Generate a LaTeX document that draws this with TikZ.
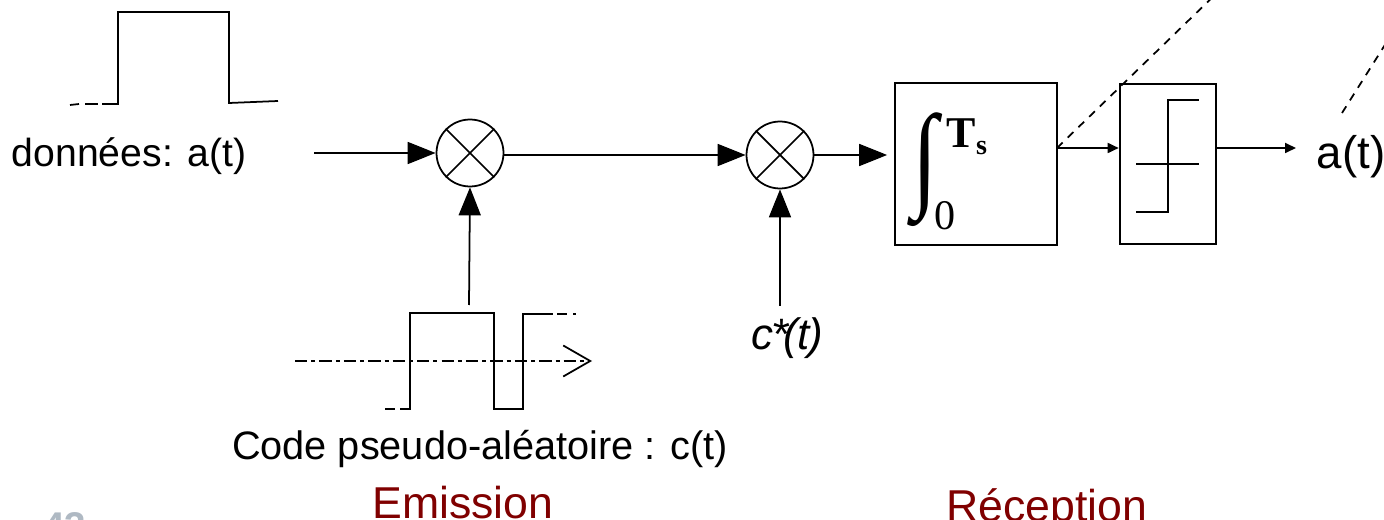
\documentclass[tikz,border=0pt]{standalone}
\usepackage{fontspec}
\setmainfont{Liberation Sans}
\newfontfamily\serifface{Liberation Serif}
\usetikzlibrary{arrows.meta}
\definecolor{titlered}{RGB}{128,0,0}
\definecolor{pagegray}{RGB}{175,185,195}
\begin{document}
\begin{tikzpicture}
[x=.02cm,y=-.02cm,line width=1pt,
 label/.style={inner sep=0pt,font=\fontsize{22.3}{26}\selectfont},
 title/.style={inner sep=0pt,text=titlered,font=\fontsize{25.4}{30}\selectfont},
 mult/.style={circle,draw=black,inner sep=0pt,minimum size=1.34cm},
 bigarrow/.style={-{Triangle[length=.56cm,width=.44cm]}},
 smallarrow/.style={-{Triangle[length=.22cm,width=.2cm]}},
 longdash/.style={dash pattern=on 4.5pt off 4pt}]
\useasboundingbox (0,0) rectangle (1384,520);
\node[label] (data) at (129,156) {données: a(t)};
\node[label,font=\fontsize{22.6}{26}\selectfont] (code) at (480,449) {Code pseudo-aléatoire : c(t)};
\node[label,font=\fontsize{26}{30}\selectfont] (out) at (1351,157) {a(t)};
\node[label,font=\fontsize{25}{30}\selectfont\itshape] (conj) at (787,338) {c\kern-1pt*\kern-3pt(t\kern-1pt)};
\node[title] (emis) at (463,503) {Emission};
\node[title] (recep) at (1047,510) {Réception};
\node[inner sep=0pt,text=pagegray,font=\fontsize{22}{26}\bfseries] (page) at (65,526) {43};
\node[mult] (mult1) at (470,153) {};
\node[mult] (mult2) at (780,155) {};
\foreach \m in {mult1,mult2}
{
  \draw (\m.45) -- (\m.225);
  \draw (\m.135) -- (\m.315);
}
\node[draw=black,minimum size=3.24cm,inner sep=0pt] (integ) at (976,164) {};
\node[draw=black,line width=1.5pt,minimum width=1.92cm,minimum height=3.2cm,inner sep=0pt] (comp) at (1168,164) {};
\node[inner sep=0pt,font=\serifface\bfseries\fontsize{66}{70}\selectfont] (intsign) at (925,170) {\scalebox{.8}[1]{∫}};
\node[inner sep=0pt,font=\serifface\bfseries\fontsize{25}{30}\selectfont] (upper) at (967,137) {T\raisebox{-4pt}{\fontsize{16}{18}\selectfont s}};
\node[inner sep=0pt,font=\serifface\fontsize{24}{26}\selectfont] (lower) at (945,216) {0};
\coordinate (datain) at (314,153);
\coordinate (codeout) at (469,305);
\coordinate (conjout) at (780,306);
\coordinate (integout) at (1057,148);
\coordinate (compend) at (1296,148);
\draw[bigarrow] (datain) to (mult1.west);
\draw[bigarrow] (mult1.east |- mult2.west) to (mult2.west);
\draw[bigarrow] (codeout) to (mult1.south);
\draw[bigarrow] (conjout) to (mult2.south);
\draw[bigarrow,shorten >=.14cm] (mult2.east) to (mult2.east -| integ.west);
\draw[smallarrow] (integout) to (integout -| comp.west);
\draw[smallarrow] (comp.east |- integout) to (compend);
\draw[longdash] (integout) to (1222,-12);
\draw[longdash] (1342,113) to (1388,40);
% comparator curve
\draw (1136,164) to (1199,164);
\draw (1136,212) to (1168,212) to (1168,100) to (1199,100);
% data pulse
\draw (70,105) to (79,104);
\draw (85,104) to (98,104);
\draw (102,104) to (118,104) to (118,12) to (229,12) to (229,103) to (278,101);
% code waveform
\draw (385,409) to (395,409);
\draw (400,409) to (410,409) to (410,313) to (494,313) to (494,409) to (523,409) to (523,314) to (553,314);
\draw (557,314) to (567,314);
\draw (573,314) to (576,314);
\draw[dash pattern=on 7pt off 2.3pt on 2.3pt off 2.3pt,-{Straight Barb[length=.54cm,width=.62cm,line width=1pt]}] (295,361) to (592,361);
\end{tikzpicture}
\end{document}
